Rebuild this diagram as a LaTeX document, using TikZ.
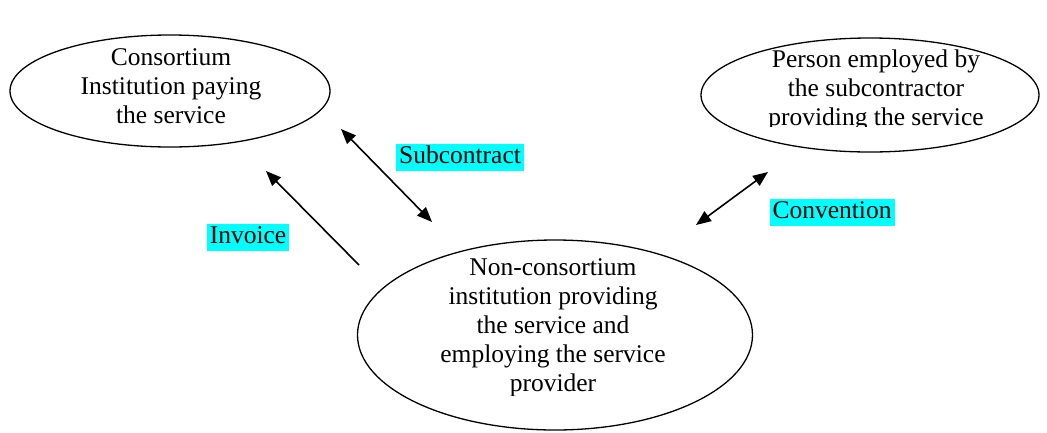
\documentclass[tikz,border=0pt]{standalone}
\usepackage{fontspec}
\setmainfont{Liberation Serif}
\usetikzlibrary{arrows.meta,positioning,shapes.geometric}
\definecolor{tagcyan}{RGB}{0,255,255}
\tikzstyle{party}=[ellipse,draw=black,line width=1.3pt,inner sep=0pt]
\tikzstyle{partytext}=[align=center,inner sep=0pt,anchor=north,font=\fontsize{25.5}{29}\selectfont]
\tikzstyle{tag}=[fill=tagcyan,inner xsep=3pt,inner ysep=1pt,text height=19pt,text depth=6pt,font=\fontsize{25.5}{29}\selectfont]
\tikzstyle{oneway}=[-{Triangle[length=15pt,width=12pt]},line width=1.6pt]
\tikzstyle{twoway}=[{Triangle[length=15pt,width=12pt]}-{Triangle[length=15pt,width=12pt]},line width=1.6pt]

\begin{document}
\begin{tikzpicture}[x=1pt,y=-1pt]
	\useasboundingbox (0,0) rectangle (1047,432);
	% the three parties
	\node [style=party,minimum width=320pt,minimum height=112pt] (payer) at (170,91) {};
	\node [style=party,minimum width=338pt,minimum height=114pt] (person) at (870,95) {};
	\node [style=party,minimum width=395pt,minimum height=190pt] (provider) at (555,335) {};
	\node [style=partytext] (payertxt) at (171,48) {Consortium\\Institution paying\\the service};
	\begin{scope}
		\clip (700,30) rectangle (1040,126);
		\node [style=partytext] (persontxt) at (876,50) {Person employed by\\the subcontractor\\providing the service};
	\end{scope}
	\begin{scope}
		\clip (360,240) rectangle (750,395);
		\node [style=partytext] (providertxt) at (553,258) {Non-consortium\\institution providing\\the service and\\employing the service\\provider};
	\end{scope}
	% labels
	\node [style=tag] (subcontract) at (460,157) {Subcontract};
	\node [style=tag] (invoice) at (248,237) {Invoice};
	\node [style=tag] (convention) at (832,212) {Convention};
	% arrow ends
	\coordinate (subA) at (341,129);
	\coordinate (subB) at (432,222);
	\coordinate (invA) at (359,265);
	\coordinate (invB) at (266,171);
	\coordinate (conA) at (696,225);
	\coordinate (conB) at (768,172);
	\draw [style=twoway] (subA) to (subB);
	\draw [style=oneway] (invA) to (invB);
	\draw [style=twoway] (conA) to (conB);
\end{tikzpicture}
\end{document}
